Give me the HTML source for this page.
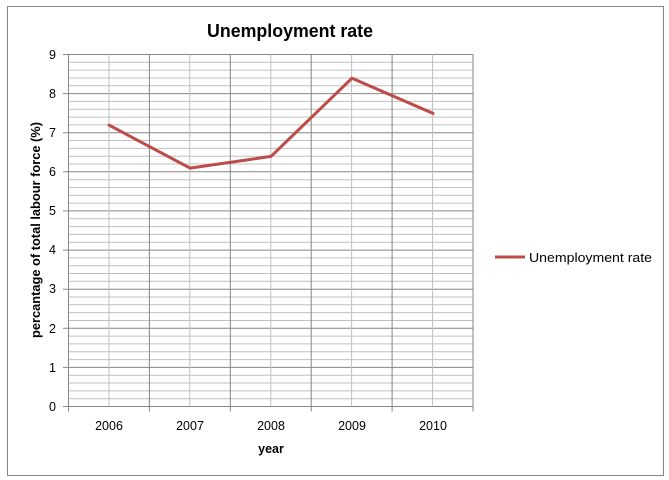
<!DOCTYPE html>
<html><head><style>body{margin:0;background:#fff}svg{display:block}</style></head><body>
<svg width="669" height="480" xmlns="http://www.w3.org/2000/svg" font-family="Liberation Sans, sans-serif">
<rect x="0" y="0" width="669" height="480" fill="#fff"/>
<rect x="7.5" y="6.5" width="656" height="469" fill="none" stroke="#868686" stroke-width="1"/>
<g id="g"></g>
<text x="290" y="37" text-anchor="middle" font-weight="bold" font-size="18" textLength="166" lengthAdjust="spacingAndGlyphs">Unemployment rate</text>
<text transform="translate(40,230) rotate(-90)" text-anchor="middle" font-weight="bold" font-size="12.5" textLength="216" lengthAdjust="spacingAndGlyphs">percantage of total labour force (%)</text>
<text x="271" y="453" text-anchor="middle" font-weight="bold" font-size="12.5">year</text>
<g font-size="12.5" text-anchor="end">
<text x="56" y="59">9</text><text x="56" y="98">8</text><text x="56" y="137">7</text><text x="56" y="176">6</text><text x="56" y="215">5</text><text x="56" y="254">4</text><text x="56" y="293">3</text><text x="56" y="333">2</text><text x="56" y="372">1</text><text x="56" y="411">0</text>
</g>
<g font-size="12.5" text-anchor="middle">
<text x="109" y="430">2006</text><text x="190" y="430">2007</text><text x="271" y="430">2008</text><text x="352" y="430">2009</text><text x="433" y="430">2010</text>
</g>
<polyline points="109,125.1 190,168.1 271,156.4 352,78.2 433,113.4" fill="none" stroke="#be4b48" stroke-width="3" stroke-linejoin="round" stroke-linecap="round"/>
<line x1="495" y1="257" x2="525" y2="257" stroke="#be4b48" stroke-width="3"/>
<text x="529" y="262" font-size="12.5" textLength="123" lengthAdjust="spacingAndGlyphs">Unemployment rate</text>
</svg>
<script>
(function(){
var g=document.getElementById('g'),s='';
var T=54.5,B=406.5,L=68.5,R=473;
for(var i=0;i<=45;i++){var y=(B-(B-T)*i/45).toFixed(1);
var major=i%5==0;
s+='<line x1="'+(major?63:L)+'" y1="'+y+'" x2="'+R+'" y2="'+y+'" stroke="'+(major?'#868686':'#c0c0c0')+'" stroke-width="1"/>';}
for(var j=0;j<=5;j++){var x=(L+(R-L)*j/5).toFixed(1);
s+='<line x1="'+x+'" y1="'+T+'" x2="'+x+'" y2="'+(B+5)+'" stroke="#868686" stroke-width="1"/>';
if(j<5){var xc=(L+(R-L)*(j+0.5)/5).toFixed(1);s+='<line x1="'+xc+'" y1="'+T+'" x2="'+xc+'" y2="'+B+'" stroke="#c0c0c0" stroke-width="1"/>';}}
g.innerHTML=s;
})();
</script>
</body></html>
